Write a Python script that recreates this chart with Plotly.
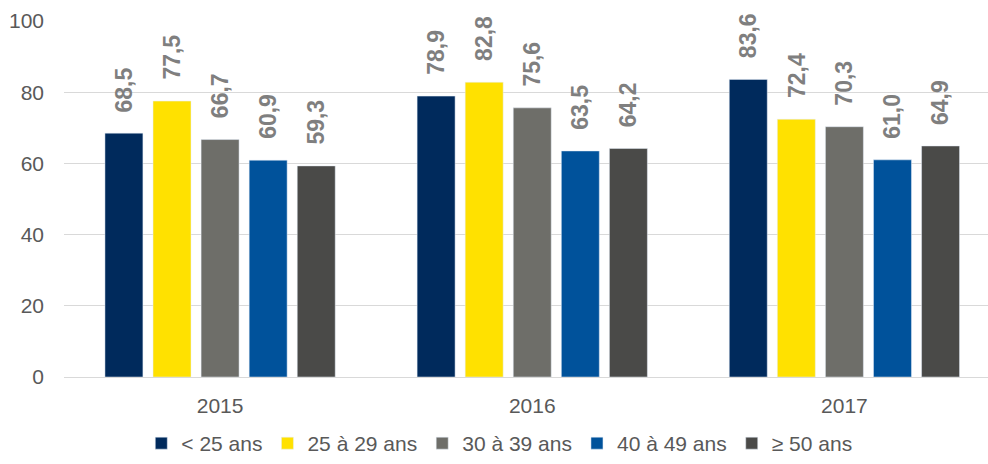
import plotly.graph_objects as go

years = ["2015", "2016", "2017"]
groups = ["< 25 ans", "25 à 29 ans", "30 à 39 ans", "40 à 49 ans", "≥ 50 ans"]
lt25 = [68.5, 78.9, 83.6]
a25_29 = [77.5, 82.8, 72.4]
a30_39 = [66.7, 75.6, 70.3]
a40_49 = [60.9, 63.5, 61.0]
ge50 = [59.3, 64.2, 64.9]
series = [lt25, a25_29, a30_39, a40_49, ge50]
colors = ["#002a5c", "#ffe100", "#6e6e69", "#00529b", "#4a4a48"]

FONT = "Liberation Sans, Arial"
BARGAP = 0.23

fig = go.Figure()
n = len(series)
for i, (name, vals, col) in enumerate(zip(groups, series, colors)):
    fig.add_trace(go.Bar(x=years, y=vals, name=name, marker_color=col))
    # value labels, rotated, centred on each bar of the group
    offset = (i - (n - 1) / 2) * (1 - BARGAP) / n
    for j, v in enumerate(vals):
        fig.add_annotation(
            x=j + offset, y=v, xref="x", yref="y",
            text=f"{v:.1f}".replace(".", ","), showarrow=False,
            textangle=-90, yanchor="bottom", xanchor="center", yshift=19,
            font=dict(family=FONT, size=23, color="#7f7f7f", weight="bold"),
        )

fig.update_layout(
    width=988, height=464,
    margin=dict(l=64, r=0, t=21, b=87),
    paper_bgcolor="white", plot_bgcolor="white",
    barmode="group", bargap=BARGAP, bargroupgap=0.21,
    font=dict(family=FONT, color="#595959"),
    legend=dict(orientation="h", xref="container", yref="container",
                x=0.143, xanchor="left", y=0.0, yanchor="bottom",
                font=dict(family=FONT, size=21, color="#595959"),
                itemwidth=30, traceorder="normal"),
    showlegend=True,
)
fig.update_xaxes(range=[-0.5, 2.46], showline=True, linecolor="#d9d9d9", linewidth=1,
                 tickfont=dict(size=21, color="#595959"), ticks="",
                 ticklabelstandoff=10)
fig.update_yaxes(range=[0, 100], dtick=20, showgrid=True, gridcolor="#d9d9d9",
                 zeroline=False, tickfont=dict(size=21, color="#595959"),
                 ticklabelstandoff=19)

fig.write_html("out.html")
